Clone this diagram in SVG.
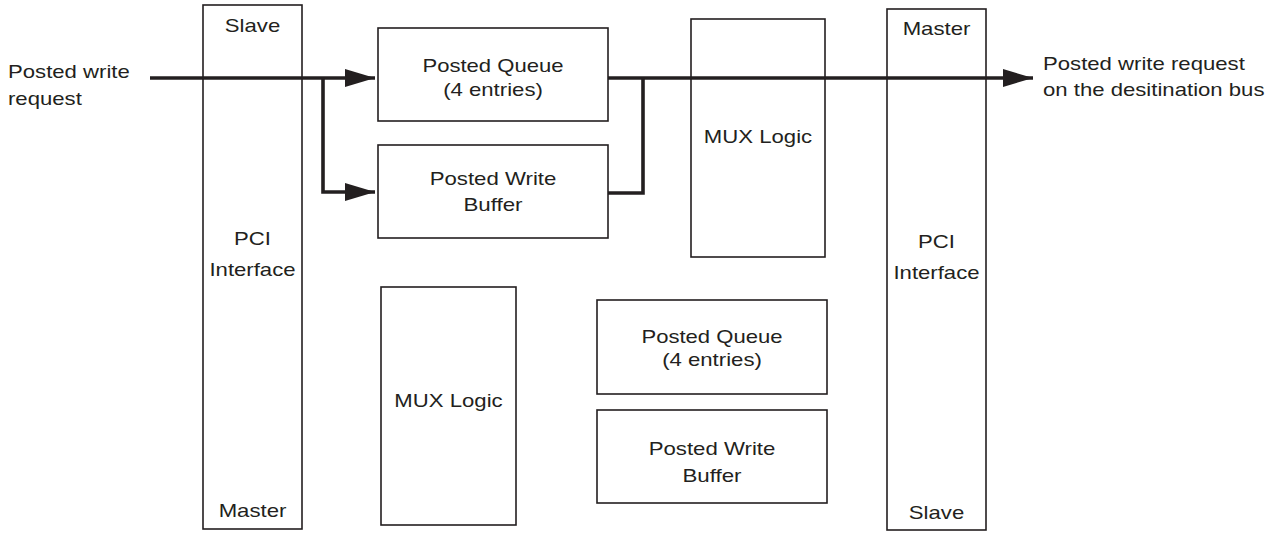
<svg xmlns="http://www.w3.org/2000/svg" width="1278" height="533" viewBox="0 0 1278 533">
<style>
.box{fill:#fff;stroke:#231f20;stroke-width:1.6}
.t{font-family:"Liberation Sans",Arial,sans-serif;font-size:19px;fill:#231f20;text-anchor:middle}
.ts{font-family:"Liberation Sans",Arial,sans-serif;font-size:19px;fill:#231f20;text-anchor:start}
.ln{fill:none;stroke:#231f20;stroke-width:3.6;stroke-linejoin:miter}
</style>
<defs>
<marker id="arr" markerUnits="userSpaceOnUse" markerWidth="30" markerHeight="18" refX="30" refY="9" orient="auto">
<path d="M0,0 L30,9 L0,18 Z" fill="#231f20"/>
</marker>
</defs>
<rect width="1278" height="533" fill="#fff"/>
<g id="pci-left">
<rect class="box" x="203" y="5" width="99" height="524"/>
<text class="t" x="252.5" y="32" textLength="55.4" lengthAdjust="spacingAndGlyphs">Slave</text>
<text class="t" x="252.5" y="245" textLength="36.9" lengthAdjust="spacingAndGlyphs">PCI</text>
<text class="t" x="252.5" y="276" textLength="86.1" lengthAdjust="spacingAndGlyphs">Interface</text>
<text class="t" x="252.5" y="517" textLength="67.7" lengthAdjust="spacingAndGlyphs">Master</text>
</g>
<g id="pq-top">
<rect class="box" x="378" y="28" width="230" height="93"/>
<text class="t" x="493" y="72" textLength="141.1" lengthAdjust="spacingAndGlyphs">Posted Queue</text>
<text class="t" x="493" y="96" textLength="99.7" lengthAdjust="spacingAndGlyphs">(4 entries)</text>
</g>
<g id="pwb-top">
<rect class="box" x="378" y="145" width="230" height="93"/>
<text class="t" x="493" y="185" textLength="126.7" lengthAdjust="spacingAndGlyphs">Posted Write</text>
<text class="t" x="493" y="211" textLength="59.1" lengthAdjust="spacingAndGlyphs">Buffer</text>
</g>
<g id="mux-top">
<rect class="box" x="691" y="19" width="134" height="238"/>
<text class="t" x="758" y="143" textLength="108.3" lengthAdjust="spacingAndGlyphs">MUX Logic</text>
</g>
<g id="pci-right">
<rect class="box" x="887" y="9" width="99" height="521"/>
<text class="t" x="936.5" y="35" textLength="67.7" lengthAdjust="spacingAndGlyphs">Master</text>
<text class="t" x="936.5" y="248" textLength="36.9" lengthAdjust="spacingAndGlyphs">PCI</text>
<text class="t" x="936.5" y="279" textLength="86.1" lengthAdjust="spacingAndGlyphs">Interface</text>
<text class="t" x="936.5" y="519" textLength="55.4" lengthAdjust="spacingAndGlyphs">Slave</text>
</g>
<g id="mux-bottom">
<rect class="box" x="381" y="287" width="135" height="238"/>
<text class="t" x="448.5" y="407" textLength="108.3" lengthAdjust="spacingAndGlyphs">MUX Logic</text>
</g>
<g id="pq-bottom">
<rect class="box" x="597" y="300" width="230" height="94"/>
<text class="t" x="712" y="343" textLength="141.1" lengthAdjust="spacingAndGlyphs">Posted Queue</text>
<text class="t" x="712" y="366" textLength="99.7" lengthAdjust="spacingAndGlyphs">(4 entries)</text>
</g>
<g id="pwb-bottom">
<rect class="box" x="597" y="410" width="230" height="93"/>
<text class="t" x="712" y="455" textLength="126.7" lengthAdjust="spacingAndGlyphs">Posted Write</text>
<text class="t" x="712" y="482" textLength="59.1" lengthAdjust="spacingAndGlyphs">Buffer</text>
</g>
<g id="label-in">
<text class="ts" x="8" y="78" textLength="121.8" lengthAdjust="spacingAndGlyphs">Posted write</text>
<text class="ts" x="8" y="105" textLength="73.8" lengthAdjust="spacingAndGlyphs">request</text>
</g>
<g id="label-out">
<text class="ts" x="1043" y="70" textLength="201.8" lengthAdjust="spacingAndGlyphs">Posted write request</text>
<text class="ts" x="1043" y="96" textLength="221.5" lengthAdjust="spacingAndGlyphs">on the desitination bus</text>
</g>
<g id="connectors">
<path class="ln" d="M150,78 H375" marker-end="url(#arr)"/>
<path class="ln" d="M323,78 V192 H375" marker-end="url(#arr)"/>
<path class="ln" d="M608,78 H1033" marker-end="url(#arr)"/>
<path class="ln" d="M608,193 H643 V78"/>
</g>
</svg>
